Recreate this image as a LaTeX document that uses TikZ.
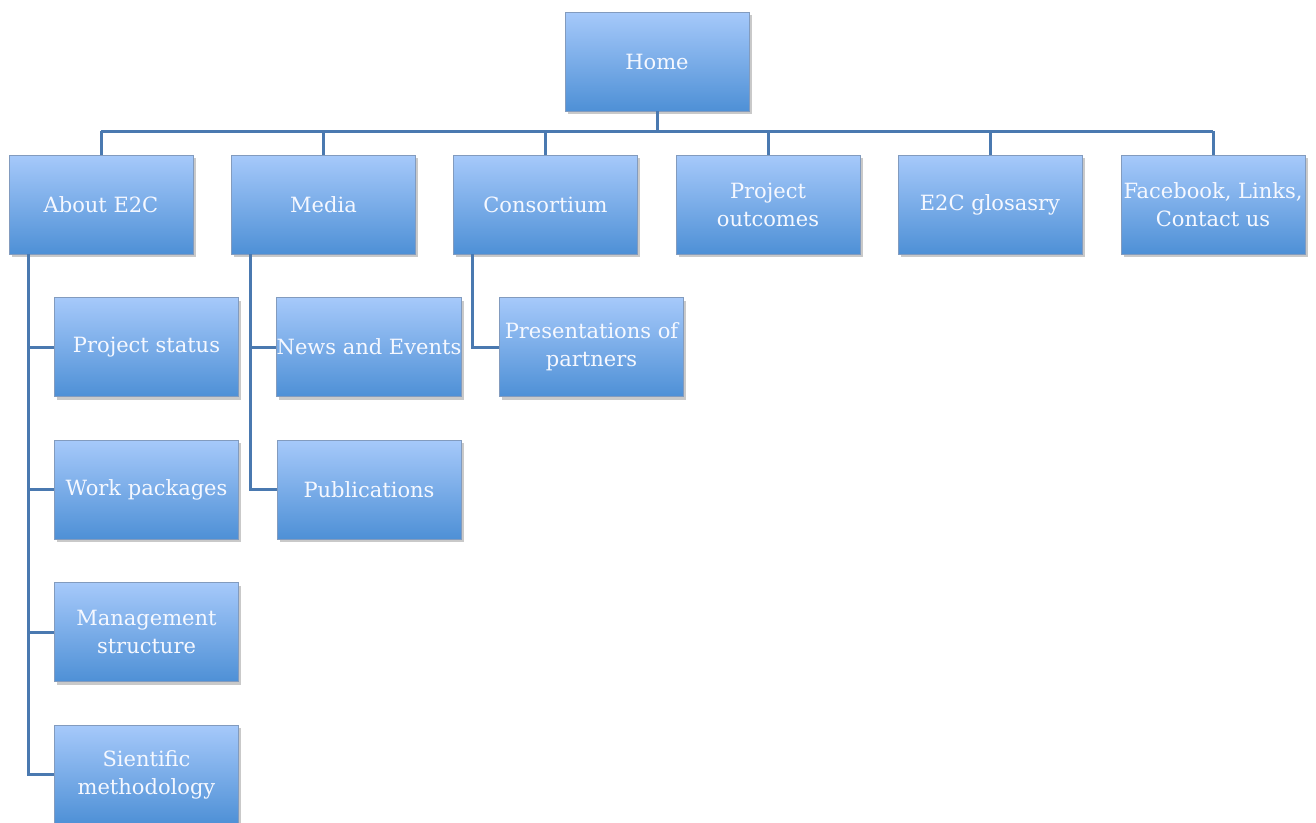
\documentclass[tikz,border=0pt]{standalone}
\usepackage{fontspec}
\setmainfont{DejaVu Serif}
\usetikzlibrary{shadows}
\definecolor{boxtop}{RGB}{166,201,250}
\definecolor{boxbot}{RGB}{78,144,214}
\definecolor{boxborder}{RGB}{130,155,190}
\definecolor{linecol}{RGB}{74,121,176}
\definecolor{txtcol}{RGB}{245,248,255}
\begin{document}
\begin{tikzpicture}[x=1pt,y=-1pt,
  box/.style={draw=boxborder, line width=0.6pt, top color=boxtop, bottom color=boxbot,
    minimum width=184pt, minimum height=99pt, text=txtcol, align=center, inner sep=0pt,
    font=\fontsize{21}{28}\selectfont,
    drop shadow={opacity=0.3, shadow xshift=2.5pt, shadow yshift=-3pt, fill=black!70}},
  link/.style={draw=linecol, line width=3pt}]
\useasboundingbox (0,0) rectangle (1316,822);
% nodes
\node[box] (home) at (657,61.5) {Home};
\node[box] (about) at (101,204.5) {About E2C};
\node[box] (media) at (323.5,204.5) {Media};
\node[box] (cons) at (545.5,204.5) {Consortium};
\node[box] (outc) at (768,204.5) {Project\\outcomes};
\node[box] (glos) at (990,204.5) {E2C glosasry};
\node[box] (fb) at (1213,204.5) {Facebook, Links,\\Contact us};
\node[box] (ps) at (146.5,347) {Project status};
\node[box] (wp) at (146.5,489.5) {Work packages};
\node[box] (ms) at (146.5,632) {Management\\structure};
\node[box] (sm) at (146.5,774.5) {Sientific\\methodology};
\node[box] (ne) at (369,347) {News and Events};
\node[box] (pub) at (369,489.5) {Publications};
\node[box] (pp) at (591.5,347) {Presentations of\\partners};
% connectors
\coordinate (bus) at (657,131);
\draw[link] (home.south) -- (bus);
\draw[link] (bus -| about.north) -- (bus -| fb.north);
\foreach \n in {about,media,cons,outc,glos,fb}
  \draw[link] (bus -| \n.north) -- (\n.north);
\coordinate (aL) at ([xshift=20pt]about.south west);
\coordinate (mL) at ([xshift=19pt]media.south west);
\coordinate (cL) at ([xshift=19pt]cons.south west);
\draw[link] (aL) |- (sm.west);
\foreach \n in {ps,wp,ms}
  \draw[link] (aL |- \n.west) -- (\n.west);
\draw[link] (mL) |- (pub.west);
\draw[link] (mL |- ne.west) -- (ne.west);
\draw[link] (cL) |- (pp.west);
\end{tikzpicture}
\end{document}
